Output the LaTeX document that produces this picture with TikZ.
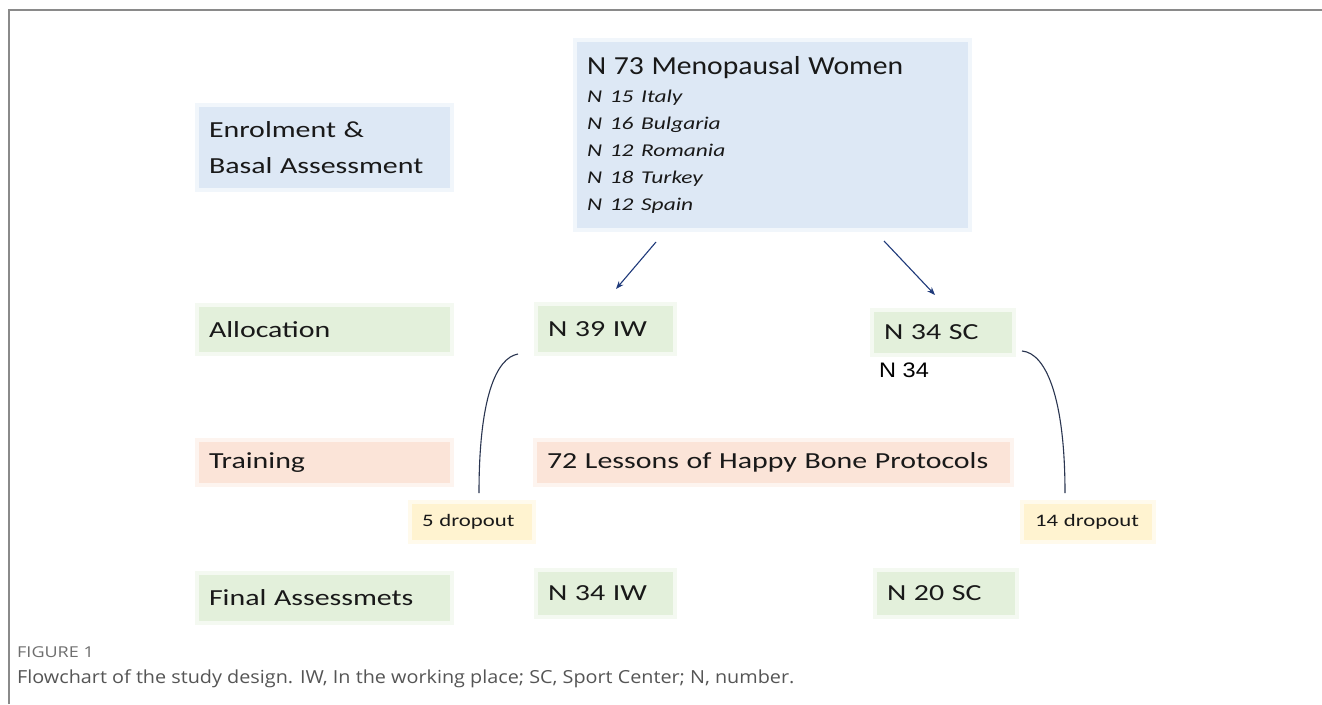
\documentclass[tikz,border=0pt]{standalone}
\usepackage{fontspec}
\setmainfont{Carlito}
\newfontfamily\lf[FakeStretch=1.3]{Carlito}
\newfontfamily\tf[FakeStretch=1.14]{Carlito}
\newfontfamily\af[FakeStretch=1.12]{Liberation Sans}
\newfontfamily\cf[FakeStretch=1.1]{Open Sans}
\newfontfamily\ff[FakeStretch=1.2]{Open Sans}
\usetikzlibrary{arrows.meta,calc}
\definecolor{bluef}{HTML}{DDE8F5}
\definecolor{greenf}{HTML}{E3F0DB}
\definecolor{peachf}{HTML}{FBE4D8}
\definecolor{yellf}{HTML}{FFF3D0}
\definecolor{arrc}{HTML}{1F3A7A}
\definecolor{curvc}{HTML}{2A3550}
\definecolor{framec}{HTML}{8A8A8A}
\definecolor{capc}{HTML}{555555}
\definecolor{figc}{HTML}{6E6E6E}
\begin{document}
\begin{tikzpicture}[x=1pt,y=-1pt,
  box/.style={rectangle, anchor=north west, inner xsep=12pt, inner ysep=0pt, align=left,
    font=\lf\fontsize{23}{36}\selectfont, text=black!90},
  blueb/.style={box, fill=bluef, draw=bluef!40!white, line width=4pt},
  greenb/.style={box, fill=greenf, draw=greenf!40!white, line width=4pt},
  peachb/.style={box, fill=peachf, draw=peachf!40!white, line width=4pt},
  yellb/.style={box, fill=yellf, draw=yellf!40!white, line width=4pt, font=\lf\fontsize{17.5}{20}\selectfont},
  arr/.style={draw=arrc, line width=1.1pt, -{Stealth[length=8pt,width=6pt]}},
  curv/.style={draw=curvc, line width=1.1pt},
  plain/.style={inner sep=0pt, anchor=base west}
]
\useasboundingbox (0,0) rectangle (1322,704);
\fill[white] (0,0) rectangle (1322,704);
\draw[framec, line width=1.5pt] (9,704) -- (9,10) -- (1322,10);

% row labels
\node[blueb, text width=231pt, minimum height=85pt] (enrol) at (195,103) {Enrolment \&\\Basal Assessment};
\node[greenb, text width=231pt, minimum height=49pt] (alloc) at (195,303) {Allocation};
\node[peachb, text width=231pt, minimum height=45pt] (train) at (195,438) {Training};
\node[greenb, text width=231pt, minimum height=50pt] (final) at (195,571) {Final Assessmets};

% top box
\node[blueb, text width=371pt, minimum height=190pt] (top) at (573,38)
  {{\tf\fontsize{26}{30}\selectfont N 73 Menopausal Women}\par\vspace{1pt}
   {\itshape\fontsize{18}{27}\selectfont N 15 Italy\\N 16 Bulgaria\\N 12 Romania\\N 18 Turkey\\N 12 Spain\par}};

% groups
\node[greenb, text width=115pt, minimum height=50pt] (iw) at (534,302) {N 39 IW};
\node[greenb, text width=118pt, minimum height=45pt] (sc) at (870,308) {N 34 SC};
\node[plain, font=\af\fontsize{21}{24}\selectfont] (n34) at (879,377) {N 34};

\node[peachb, text width=453pt, minimum height=45pt] (lessons) at (533,438) {72 Lessons of Happy Bone Protocols};

\node[yellb, text width=100pt, minimum height=40pt] (d5) at (408,500) {5 dropout};
\node[yellb, text width=106pt, minimum height=40pt, inner xsep=13pt] (d14) at (1020,500) {14 dropout};

\node[greenb, text width=115pt, minimum height=47pt] (iw2) at (534,568) {N 34 IW};
\node[greenb, text width=118pt, minimum height=47pt] (sc2) at (873,568) {N 20 SC};

% arrows
\draw[arr] ([xshift=-116.5pt,yshift=-10pt]top.south) -- ([xshift=10.5pt,yshift=13pt]iw.north);
\draw[arr] ([xshift=111.5pt,yshift=-9pt]top.south) -- ([xshift=-8pt,yshift=13pt]sc.north);

% dropout curves
\draw[curv] ([xshift=-16pt,yshift=2pt]iw.south west) .. controls ++(-22,4) and ++(0,-95) .. ([xshift=7pt,yshift=7pt]d5.north);
\draw[curv] ([xshift=6pt,yshift=6pt]sc.south east) .. controls ++(24,2) and ++(0,-95) .. ([xshift=-23pt,yshift=7pt]d14.north);

% caption
\node[plain, font=\ff\fontsize{15}{17}\selectfont, text=figc] (figlab) at (17,657) {FIGURE 1};
\node[plain, font=\cf\fontsize{18}{21}\selectfont, text=capc] (cap) at (17,683) {Flowchart of the study design. IW, In the working place; SC, Sport Center; N, number.};
\end{tikzpicture}
\end{document}
